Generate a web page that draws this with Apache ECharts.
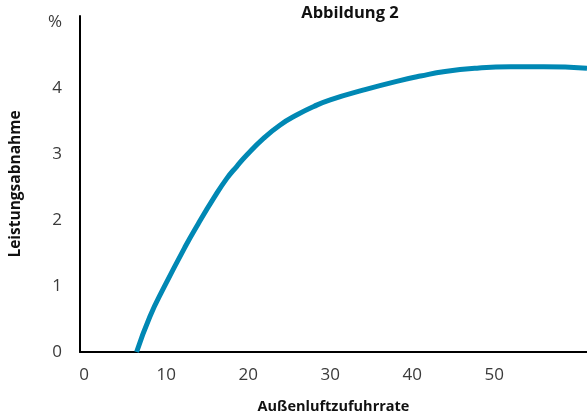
<!DOCTYPE html>
<html>
<head>
<meta charset="utf-8">
<script src="https://cdn.jsdelivr.net/npm/echarts@6/dist/echarts.min.js"></script>
<style>html,body{margin:0;padding:0;background:#fff}#c{width:587px;height:414px}</style>
</head>
<body>
<div id="c"></div>
<script>
var xValues = [6.4, 8.0, 9.7, 12.3, 13.9, 15.8, 17.4, 18.6, 19.8, 21.9, 23.9, 25.9, 28.0, 30.0, 34.1, 38.1, 41.0, 44.0, 47.9, 52.0, 56.0, 61.3];
var yValues = [0, 0.53, 0.97, 1.59, 1.94, 2.33, 2.63, 2.81, 2.98, 3.24, 3.44, 3.59, 3.72, 3.82, 3.97, 4.10, 4.18, 4.25, 4.30, 4.32, 4.32, 4.30];
var xTicks = [0, 10, 20, 30, 40, 50];
var yTicks = [0, 1, 2, 3, 4, 5];
var yTopLabel = '%';
var titleText = 'Abbildung 2';
var xName = 'Außenluftzufuhrrate';
var yName = 'Leistungsabnahme';

var data = xValues.map(function (x, i) { return [x, yValues[i]]; });
var chart = echarts.init(document.getElementById('c'));
chart.setOption({
  animation: false,
  title: {
    text: titleText, left: 345, top: 0, textAlign: 'center',
    textStyle: { fontFamily: 'Open Sans', fontSize: 16.5, fontWeight: 'bold', color: '#111' }
  },
  grid: { left: 80, right: 0, top: 16, bottom: 62, containLabel: false, outerBoundsMode: 'none' },
  xAxis: {
    type: 'value', min: -0.5, max: 61.3,
    name: xName, nameLocation: 'middle', nameGap: 47,
    nameTextStyle: { fontFamily: 'Open Sans', fontSize: 14.5, fontWeight: 'bold', color: '#111' },
    axisLine: { show: true, onZero: false, lineStyle: { color: '#000', width: 2 } },
    axisTick: { show: false },
    splitLine: { show: false },
    axisLabel: {
      customValues: xTicks,
      margin: 15, color: '#3a3a3a', fontFamily: 'Open Sans', fontSize: 17
    }
  },
  yAxis: {
    type: 'value', min: 0, max: 5.09,
    name: yName, nameLocation: 'middle', nameGap: 56,
    nameTextStyle: { fontFamily: 'Open Sans', fontSize: 15.5, fontWeight: 'bold', color: '#111' },
    axisLine: { show: true, onZero: false, lineStyle: { color: '#000', width: 2 } },
    axisTick: { show: false },
    splitLine: { show: false },
    axisLabel: {
      customValues: yTicks,
      margin: 18, color: '#3a3a3a', fontFamily: 'Open Sans', fontSize: 17,
      formatter: function (v) { return v === 5 ? yTopLabel : String(v); }
    }
  },
  series: [{
    type: 'line', data: data, smooth: 0.5, showSymbol: false,
    lineStyle: { color: '#0088b4', width: 5 }
  }]
});
</script>
</body>
</html>
